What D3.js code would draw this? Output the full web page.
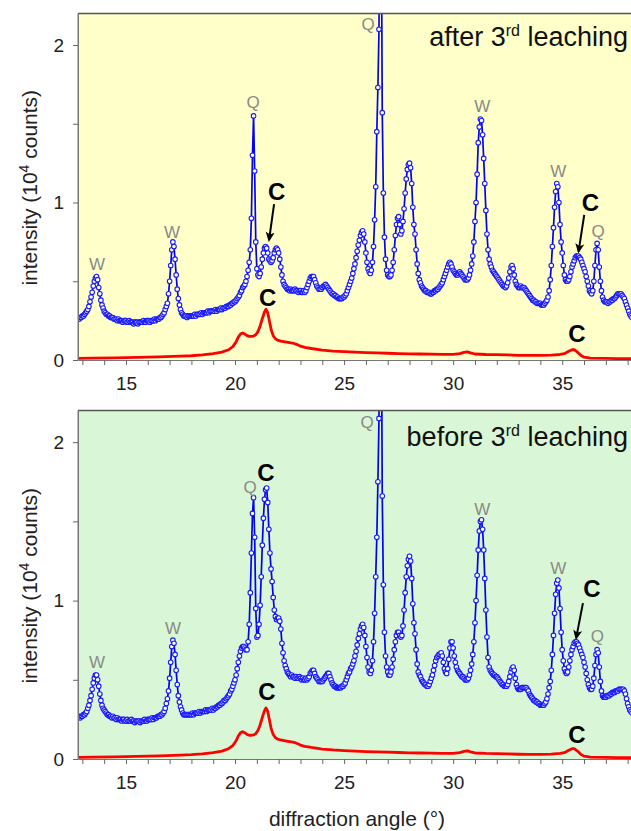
<!DOCTYPE html>
<html>
<head>
<meta charset="utf-8">
<script src="https://cdn.jsdelivr.net/npm/d3@7"></script>
<style>
  html, body { margin: 0; padding: 0; background: #ffffff; }
  svg { display: block; }
  text { font-family: "Liberation Sans", Arial, Helvetica, sans-serif; }
</style>
</head>
<body>
<svg id="chart" width="631" height="831"></svg>
<script>
// ---------------- DATA ----------------
// diffraction angle grid (degrees 2θ) for the measured (blue) patterns
const angleStart = 12.8;
const angleStep = 0.05;

// intensity (10^4 counts), after 3rd leaching, 12.80 … 38.20 step 0.05
const blueAfter = [
  0.27,0.26,0.27,0.27,
  0.28,0.28,0.29,0.30,0.31,0.32,0.34,0.37,0.40,0.43, 0.47,0.50,0.52,0.53,0.51,0.46,0.42,0.38,0.35,0.33,
  0.31,0.30,0.29,0.29,0.28,0.28,0.27,0.27,0.27,0.26, 0.26,0.26,0.25,0.26,0.25,0.25,0.25,0.24,0.25,0.25,
  0.25,0.24,0.24,0.25,0.24,0.24,0.24,0.23,0.24,0.24, 0.24,0.23,0.24,0.24,0.24,0.24,0.25,0.24,0.24,0.25,
  0.25,0.25,0.24,0.25,0.25,0.25,0.26,0.25,0.26,0.26, 0.26,0.27,0.27,0.28,0.29,0.30,0.32,0.34,0.36,0.42,
  0.50,0.60,0.70,0.75,0.72,0.64,0.54,0.45,0.39,0.35, 0.32,0.30,0.29,0.28,0.28,0.28,0.27,0.28,0.28,0.28,
  0.28,0.28,0.28,0.29,0.28,0.29,0.29,0.29,0.29,0.30, 0.29,0.30,0.30,0.30,0.30,0.31,0.30,0.31,0.31,0.31,
  0.31,0.31,0.32,0.31,0.32,0.32,0.32,0.33,0.32,0.33, 0.33,0.33,0.34,0.34,0.34,0.35,0.35,0.36,0.36,0.37,
  0.37,0.38,0.39,0.40,0.41,0.43,0.44,0.46,0.47,0.48, 0.50,0.53,0.57,0.62,0.70,0.90,1.30,1.55,1.20,0.75,
  0.58,0.54,0.53,0.55,0.59,0.64,0.68,0.71,0.72,0.71, 0.68,0.64,0.63,0.62,0.63,0.65,0.68,0.70,0.71,0.70,
  0.68,0.64,0.59,0.54,0.50,0.48,0.47,0.46,0.45,0.45, 0.44,0.45,0.44,0.44,0.44,0.45,0.44,0.44,0.43,0.44,
  0.44,0.43,0.43,0.44,0.43,0.44,0.46,0.48,0.50,0.52, 0.53,0.53,0.53,0.51,0.49,0.47,0.46,0.45,0.45,0.45,
  0.46,0.47,0.47,0.48,0.47,0.46,0.45,0.44,0.43,0.42, 0.42,0.41,0.41,0.40,0.40,0.39,0.39,0.39,0.39,0.40,
  0.40,0.41,0.42,0.44,0.46,0.48,0.50,0.52,0.55,0.58, 0.61,0.65,0.69,0.73,0.76,0.79,0.81,0.82,0.80,0.75,
  0.68,0.62,0.58,0.56,0.55,0.57,0.62,0.72,0.89,1.10, 1.45,1.73,2.10,3.60,3.00,1.57,1.06,0.78,0.64,0.57,
  0.54,0.53,0.53,0.54,0.57,0.62,0.70,0.79,0.86,0.90, 0.91,0.86,0.80,0.82,0.88,0.96,1.06,1.15,1.21,1.24,
  1.25,1.22,1.12,0.97,0.86,0.80,0.70,0.61,0.55,0.51, 0.49,0.47,0.46,0.45,0.44,0.44,0.43,0.43,0.43,0.42,
  0.42,0.43,0.43,0.44,0.44,0.45,0.45,0.46,0.47,0.48, 0.49,0.51,0.53,0.55,0.57,0.59,0.61,0.62,0.61,0.59,
  0.57,0.56,0.55,0.54,0.54,0.55,0.56,0.55,0.54,0.53, 0.52,0.51,0.51,0.51,0.52,0.54,0.57,0.61,0.66,0.75,
  0.88,1.00,1.18,1.38,1.48,1.53,1.52,1.43,1.28,1.12, 0.95,0.80,0.70,0.64,0.61,0.59,0.57,0.56,0.55,0.54,
  0.53,0.52,0.51,0.50,0.49,0.48,0.47,0.47,0.46,0.47, 0.49,0.52,0.56,0.59,0.60,0.58,0.54,0.50,0.48,0.47,
  0.46,0.46,0.47,0.46,0.46,0.46,0.45,0.44,0.43,0.42, 0.41,0.40,0.39,0.38,0.38,0.37,0.37,0.36,0.36,0.36,
  0.36,0.35,0.35,0.35,0.36,0.37,0.38,0.40,0.44,0.51, 0.60,0.72,0.84,0.97,1.07,1.12,1.10,1.00,0.86,0.75,
  0.68,0.60,0.54,0.51,0.50,0.50,0.51,0.53,0.56,0.59, 0.61,0.63,0.65,0.66,0.66,0.66,0.65,0.64,0.62,0.60,
  0.58,0.56,0.53,0.50,0.47,0.44,0.43,0.42,0.44,0.50, 0.60,0.70,0.74,0.70,0.59,0.50,0.44,0.40,0.38,0.37,
  0.37,0.37,0.36,0.37,0.37,0.38,0.38,0.39,0.39,0.40, 0.41,0.42,0.42,0.42,0.42,0.41,0.40,0.39,0.37,0.35,
  0.33,0.31,0.29,0.28,0.27
];

// intensity (10^4 counts), before 3rd leaching, 12.80 … 38.20 step 0.05
const blueBefore = [
  0.27,0.27,0.26,0.27,
  0.27,0.28,0.28,0.29,0.30,0.32,0.34,0.37,0.40,0.44, 0.48,0.51,0.53,0.53,0.50,0.46,0.41,0.37,0.34,0.32,
  0.31,0.30,0.29,0.28,0.28,0.27,0.27,0.26,0.27,0.26, 0.26,0.25,0.26,0.25,0.25,0.25,0.24,0.25,0.25,0.24,
  0.24,0.25,0.24,0.24,0.24,0.25,0.24,0.24,0.23,0.24, 0.24,0.24,0.24,0.23,0.24,0.24,0.24,0.25,0.24,0.24,
  0.25,0.25,0.25,0.25,0.26,0.25,0.26,0.26,0.26,0.27, 0.27,0.27,0.28,0.28,0.29,0.30,0.32,0.35,0.38,0.43,
  0.51,0.61,0.71,0.75,0.73,0.66,0.56,0.47,0.40,0.36, 0.33,0.31,0.29,0.28,0.28,0.28,0.28,0.28,0.28,0.28,
  0.28,0.29,0.28,0.29,0.29,0.29,0.29,0.30,0.29,0.30, 0.30,0.30,0.30,0.31,0.30,0.31,0.31,0.31,0.31,0.32,
  0.31,0.32,0.32,0.33,0.33,0.34,0.34,0.35,0.35,0.36, 0.37,0.37,0.38,0.39,0.40,0.41,0.43,0.44,0.46,0.48,
  0.50,0.53,0.57,0.61,0.65,0.68,0.70,0.71,0.71,0.70, 0.69,0.69,0.74,0.85,1.05,1.30,1.55,1.65,1.40,0.95,
  0.77,0.78,0.85,0.97,1.15,1.35,1.52,1.64,1.70,1.71, 1.62,1.45,1.30,1.20,1.12,1.02,0.94,0.90,0.88,0.89,
  0.89,0.87,0.82,0.73,0.67,0.62,0.59,0.57,0.55,0.54, 0.53,0.52,0.53,0.52,0.52,0.51,0.52,0.51,0.51,0.52,
  0.51,0.50,0.51,0.50,0.50,0.51,0.50,0.51,0.52,0.54, 0.55,0.56,0.56,0.54,0.52,0.51,0.50,0.49,0.49,0.49,
  0.49,0.50,0.51,0.52,0.53,0.54,0.54,0.52,0.50,0.48, 0.47,0.46,0.46,0.45,0.45,0.45,0.45,0.45,0.46,0.46,
  0.47,0.48,0.50,0.52,0.54,0.55,0.57,0.58,0.60,0.62, 0.65,0.68,0.72,0.76,0.79,0.82,0.84,0.85,0.83,0.78,
  0.71,0.64,0.58,0.55,0.54,0.56,0.62,0.74,0.92,1.15, 1.40,1.75,2.15,3.80,3.10,1.66,1.10,0.80,0.65,0.58,
  0.55,0.53,0.53,0.55,0.58,0.63,0.69,0.74,0.78,0.80, 0.80,0.78,0.77,0.78,0.84,0.94,1.05,1.15,1.22,1.26,
  1.28,1.25,1.14,0.98,0.86,0.79,0.69,0.60,0.55,0.53, 0.52,0.50,0.49,0.48,0.47,0.47,0.46,0.46,0.47,0.49,
  0.51,0.53,0.56,0.59,0.62,0.64,0.65,0.66,0.66,0.67, 0.65,0.61,0.57,0.55,0.54,0.57,0.63,0.70,0.74,0.74,
  0.70,0.65,0.61,0.58,0.56,0.55,0.54,0.53,0.52,0.52, 0.51,0.50,0.50,0.50,0.51,0.53,0.56,0.60,0.66,0.74,
  0.86,1.00,1.16,1.32,1.44,1.50,1.51,1.45,1.32,1.14, 0.94,0.77,0.64,0.58,0.56,0.55,0.54,0.53,0.53,0.52,
  0.52,0.51,0.50,0.49,0.48,0.47,0.47,0.46,0.46,0.46, 0.47,0.49,0.52,0.55,0.57,0.58,0.56,0.51,0.47,0.45,
  0.44,0.44,0.44,0.45,0.45,0.45,0.45,0.45,0.44,0.43, 0.41,0.40,0.39,0.38,0.37,0.37,0.36,0.36,0.35,0.35,
  0.34,0.34,0.34,0.34,0.35,0.36,0.38,0.41,0.45,0.49, 0.56,0.66,0.78,0.92,1.04,1.11,1.13,1.08,0.95,0.80,
  0.69,0.62,0.57,0.55,0.54,0.55,0.58,0.62,0.66,0.69, 0.71,0.73,0.74,0.74,0.73,0.72,0.70,0.68,0.66,0.64,
  0.61,0.58,0.54,0.50,0.47,0.45,0.44,0.44,0.46,0.51, 0.59,0.66,0.69,0.67,0.58,0.49,0.43,0.40,0.39,0.39,
  0.39,0.40,0.40,0.40,0.41,0.41,0.42,0.42,0.42,0.43, 0.43,0.43,0.44,0.44,0.44,0.44,0.44,0.43,0.41,0.38,
  0.35,0.33,0.31,0.30,0.29
];

// reference (red) pattern, shown in both panels
const redAngles = [12.8,13.5,14.5,15.5,16.5,17.5,18.0,18.5,19.0,19.4,19.7,19.9,20.05,20.15,20.25,20.35,20.45,20.55,20.65,20.75,20.85,20.95,21.05,21.15,21.25,21.35,21.42,21.5,21.58,21.66,21.75,21.85,21.95,22.1,22.3,22.5,22.7,22.85,23.0,23.2,23.5,24.0,24.5,25.0,25.5,26.0,26.5,27.0,27.5,28.0,28.5,29.0,29.5,30.0,30.3,30.5,30.65,30.8,31.0,31.5,32.0,32.5,33.0,33.5,34.0,34.5,34.9,35.1,35.3,35.45,35.55,35.7,35.85,36.0,36.3,37.0,37.5,38.2];
const redCounts = [0.010,0.012,0.014,0.017,0.020,0.024,0.027,0.032,0.040,0.050,0.065,0.085,0.115,0.145,0.165,0.172,0.165,0.155,0.150,0.150,0.152,0.160,0.180,0.215,0.262,0.305,0.322,0.300,0.245,0.190,0.155,0.135,0.126,0.120,0.115,0.110,0.105,0.098,0.088,0.080,0.073,0.063,0.057,0.053,0.050,0.047,0.045,0.043,0.041,0.039,0.038,0.037,0.036,0.036,0.040,0.048,0.052,0.045,0.038,0.035,0.034,0.032,0.030,0.029,0.029,0.031,0.035,0.040,0.055,0.065,0.066,0.050,0.030,0.018,0.012,0.010,0.009,0.009];

// axes
const xDomain = [12.8, 38.2];
const yDomain = [0, 2.2];
const xTickValues = [13,14,15,16,17,18,19,20,21,22,23,24,25,26,27,28,29,30,31,32,33,34,35,36,37,38];
const xTickLabels = [15, 20, 25, 30, 35];
const yTickValues = [0, 0.5, 1, 1.5, 2];
const yTickLabels = [0, 1, 2];

// phase labels: [angle, intensity, text]
const phaseLabelsAfter  = [[13.67,0.571,"W"],[17.11,0.775,"W"],[20.83,1.60,"Q"],[26.10,2.095,"Q"],[31.33,1.575,"W"],[34.82,1.162,"W"],[36.65,0.781,"Q"]];
const phaseLabelsBefore = [[13.67,0.575,"W"],[17.16,0.79,"W"],[20.69,1.68,"Q"],[26.06,2.09,"Q"],[31.33,1.54,"W"],[34.82,1.17,"W"],[36.61,0.74,"Q"]];
// "C" labels: [angle, intensity]
const cLabelsAfter  = [[21.91,1.016],[21.50,0.34],[36.29,0.949],[35.68,0.117]];
const cLabelsBefore = [[21.42,1.754],[21.46,0.373],[36.36,1.024],[35.68,0.098]];
// arrows: [fromAngle, fromIntensity, toAngle, toIntensity]
const arrowsAfter  = [[21.79,0.99,21.56,0.762],[36.01,0.921,35.75,0.688]];
const arrowsBefore = [[35.95,0.984,35.64,0.763]];

const panelTitles = ["after 3", "before 3"];

// ---------------- DRAW ----------------
const svg = d3.select("#chart");
const FONT = '"Liberation Sans", Arial, Helvetica, sans-serif';

const defs = svg.append("defs");
defs.append("marker")
  .attr("id", "arrowHead")
  .attr("viewBox", "0 0 10 10")
  .attr("refX", 8).attr("refY", 5)
  .attr("markerUnits", "userSpaceOnUse")
  .attr("markerWidth", 10).attr("markerHeight", 10)
  .attr("orient", "auto")
  .append("path")
  .attr("d", "M0,0.5 L10,5 L0,9.5 L2.5,5 Z")
  .attr("fill", "#000");

const blueAngles = blueAfter.map((d, i) => +(angleStart + i * angleStep).toFixed(2));

function drawPanel(cfg) {
  const { top, bottom, bg, blue, phase, cLab, arrows, title, id } = cfg;
  const left = 78, right = 632;
  const x = d3.scaleLinear().domain(xDomain).range([left, right]);
  const y = d3.scaleLinear().domain(yDomain).range([bottom, top]);

  const g = svg.append("g");

  g.append("rect")
    .attr("x", left).attr("y", top)
    .attr("width", right - left).attr("height", bottom - top)
    .attr("fill", bg);

  defs.append("clipPath").attr("id", "clip" + id)
    .append("rect")
    .attr("x", left).attr("y", top)
    .attr("width", right - left).attr("height", bottom - top);

  const plot = g.append("g").attr("clip-path", `url(#clip${id})`);

  // red reference pattern
  const redPts = redAngles.map((a, i) => [a, redCounts[i]]);
  plot.append("path")
    .datum(redPts)
    .attr("fill", "none")
    .attr("stroke", "#ff0000")
    .attr("stroke-width", 2.8)
    .attr("stroke-linejoin", "round")
    .attr("d", d3.line().x(d => x(d[0])).y(d => y(d[1])));

  // blue measured pattern
  const pts = blue.map((v, i) => [blueAngles[i], v]);
  plot.append("path")
    .datum(pts)
    .attr("fill", "none")
    .attr("stroke", "#0000ff")
    .attr("stroke-width", 1.7)
    .attr("d", d3.line().x(d => x(d[0])).y(d => y(d[1])));
  plot.append("g").selectAll("circle")
    .data(pts)
    .join("circle")
    .attr("cx", d => x(d[0]))
    .attr("cy", d => y(d[1]))
    .attr("r", 2.3)
    .attr("fill", "#ffffff")
    .attr("stroke", "#1a1aff")
    .attr("stroke-width", 1.1);

  // frame: top + left lines
  g.append("line").attr("x1", left).attr("x2", right).attr("y1", top).attr("y2", top)
    .attr("stroke", "#555").attr("stroke-width", 1.5);
  g.append("line").attr("x1", left).attr("x2", left).attr("y1", top).attr("y2", bottom)
    .attr("stroke", "#777").attr("stroke-width", 1);

  // axes
  const xAxis = d3.axisBottom(x)
    .tickValues(xTickValues)
    .tickSize(5).tickSizeOuter(0).tickPadding(12)
    .tickFormat(d => xTickLabels.includes(d) ? d : "");
  const xa = g.append("g").attr("transform", `translate(0,${bottom})`).call(xAxis);
  xa.select(".domain").attr("stroke", "#777").attr("stroke-width", 1.2);
  xa.selectAll(".tick line").attr("stroke", "#666");
  xa.selectAll(".tick text").attr("font-size", 19).attr("font-family", FONT).attr("fill", "#222");

  const yAxis = d3.axisLeft(y)
    .tickValues(yTickValues)
    .tickSize(5).tickSizeOuter(0).tickPadding(9)
    .tickFormat(d => yTickLabels.includes(d) ? d : "");
  const ya = g.append("g").attr("transform", `translate(${left},0)`).call(yAxis);
  ya.select(".domain").attr("stroke", "#777").attr("stroke-width", 1);
  ya.selectAll(".tick line").attr("stroke", "#666");
  ya.selectAll(".tick text").attr("font-size", 19).attr("font-family", FONT).attr("fill", "#222");

  // y title
  const yt = g.append("text")
    .attr("transform", `translate(37,${(top + bottom) / 2 + 1}) rotate(-90)`)
    .attr("text-anchor", "middle")
    .attr("font-size", 21).attr("fill", "#222").attr("font-family", FONT);
  yt.append("tspan").text("intensity (10");
  yt.append("tspan").attr("font-size", 14).attr("dy", -8).text("4");
  yt.append("tspan").attr("dy", 8).text(" counts)");

  // phase labels (gray)
  g.append("g").selectAll("text")
    .data(phase)
    .join("text")
    .attr("x", d => x(d[0])).attr("y", d => y(d[1]))
    .attr("text-anchor", "middle")
    .attr("font-size", 17).attr("fill", "#8a8a8a").attr("font-family", FONT)
    .text(d => d[2]);

  // C labels
  g.append("g").selectAll("text")
    .data(cLab)
    .join("text")
    .attr("x", d => x(d[0])).attr("y", d => y(d[1]))
    .attr("text-anchor", "middle")
    .attr("font-size", 24).attr("font-weight", "bold").attr("fill", "#000").attr("font-family", FONT)
    .text("C");

  // arrows
  g.append("g").selectAll("line")
    .data(arrows)
    .join("line")
    .attr("x1", d => x(d[0])).attr("y1", d => y(d[1]))
    .attr("x2", d => x(d[2])).attr("y2", d => y(d[3]))
    .attr("stroke", "#000").attr("stroke-width", 2)
    .attr("marker-end", "url(#arrowHead)");

  // panel title
  const t = g.append("text")
    .attr("x", 628).attr("y", top + cfg.titleDy)
    .attr("text-anchor", "end")
    .attr("font-size", 27).attr("fill", "#111").attr("font-family", FONT);
  t.append("tspan").text(title);
  t.append("tspan").attr("font-size", 16).attr("dy", -10).text("rd");
  t.append("tspan").attr("dy", 10).text(" leaching");
}

drawPanel({ id: "A", top: 13.5, bottom: 360, bg: "#ffffc9", blue: blueAfter,
  phase: phaseLabelsAfter, cLab: cLabelsAfter, arrows: arrowsAfter, title: panelTitles[0], titleDy: 32 });
drawPanel({ id: "B", top: 410.5, bottom: 759, bg: "#d9f7d6", blue: blueBefore,
  phase: phaseLabelsBefore, cLab: cLabelsBefore, arrows: arrowsBefore, title: panelTitles[1], titleDy: 35 });

// x axis title
svg.append("text")
  .attr("x", 357).attr("y", 826)
  .attr("text-anchor", "middle")
  .attr("font-size", 21).attr("fill", "#222").attr("font-family", FONT)
  .text("diffraction angle (°)");

if (blueAfter.length !== 509 || blueBefore.length !== 509) {
  console.error("length mismatch", blueAfter.length, blueBefore.length);
}
</script>
</body>
</html>
